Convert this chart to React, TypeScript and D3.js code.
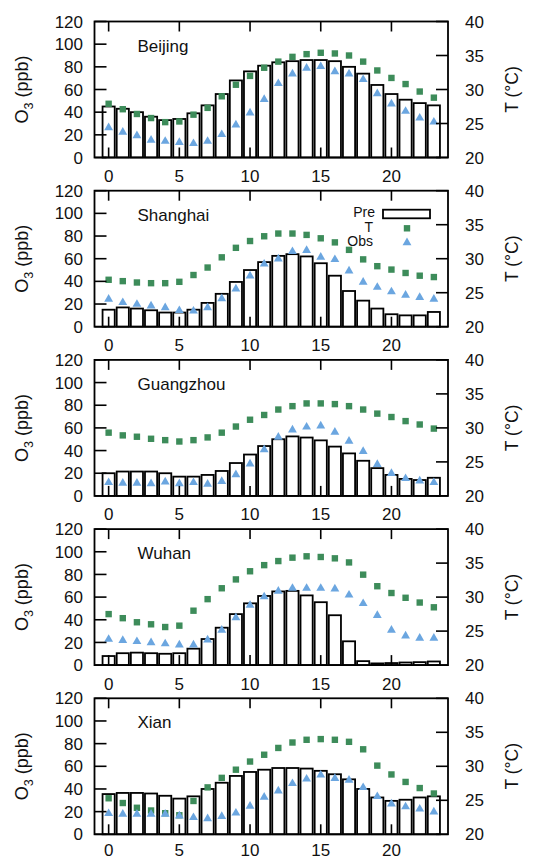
import React from "react";
import * as d3 from "d3";

const hours = d3.range(0, 24);
const cities = ["Beijing", "Shanghai", "Guangzhou", "Wuhan", "Xian"];

// predicted O3 (ppb), bars
const prePPB = [
  [45, 43, 40, 36, 33, 34, 39, 46, 56, 68, 76, 81, 84, 85, 86, 86, 85, 80, 74, 64, 56, 51, 48, 46],
  [15, 17, 16, 14.5, 12.5, 12.5, 15, 21, 29, 39.5, 50, 57, 62.5, 64, 62, 56, 45, 31.5, 23, 16, 11, 10, 10, 13],
  [20, 21.5, 21.5, 21.5, 20, 17, 17, 18.5, 22, 29, 36.5, 44, 50, 52.5, 51.5, 49, 43.5, 37.5, 31, 24.5, 18.5, 15, 14, 16],
  [8, 10.5, 11, 10.5, 10, 10.5, 14.5, 23, 33, 45, 54.5, 61, 65, 65.5, 61.5, 55.5, 44, 21, 3.5, 1.5, 1.8, 2.3, 2.6, 3.2],
  [35.5, 36.5, 36.5, 36, 34, 31.5, 33.5, 40, 45.5, 51.5, 55, 57, 58.5, 58.5, 58, 56, 53, 48.5, 40, 32.5, 29.5, 30.5, 32.5, 33.5],
];

// temperature (°C), green squares
const tempC = [
  [27.9, 27.1, 26.4, 25.8, 25.2, 25.3, 26.3, 27.3, 29.0, 30.7, 32.0, 33.2, 34.1, 34.8, 35.2, 35.4, 35.3, 35.0, 34.1, 32.8, 31.7, 30.8, 29.7, 28.8],
  [26.9, 26.7, 26.5, 26.4, 26.4, 26.6, 27.6, 28.7, 30.2, 31.6, 32.6, 33.3, 33.7, 33.7, 33.5, 33.0, 32.4, 31.3, 29.9, 28.9, 28.4, 27.9, 27.5, 27.3],
  [29.3, 28.9, 28.7, 28.4, 28.2, 28.0, 28.2, 28.6, 29.3, 30.2, 31.2, 31.9, 32.7, 33.2, 33.6, 33.6, 33.5, 33.2, 32.7, 32.1, 31.6, 31.0, 30.5, 29.9],
  [27.5, 26.9, 26.3, 26.0, 25.6, 25.8, 28.0, 29.7, 31.3, 32.6, 33.8, 34.7, 35.3, 35.8, 36.0, 35.9, 35.7, 35.1, 33.3, 31.6, 30.6, 29.9, 29.2, 28.5],
  [25.3, 24.6, 23.9, 23.5, 23.1, 22.8, 24.9, 26.9, 28.3, 29.5, 30.7, 31.7, 32.7, 33.5, 33.9, 34.0, 33.9, 33.6, 32.5, 30.1, 28.8, 27.7, 26.8, 26.0],
];

// observed O3 (ppb), blue triangles
const obsPPB = [
  [27, 23, 20, 16, 15, 14, 13, 15, 21, 29.5, 40, 52, 66, 74.5, 79.5, 81, 76.5, 74.5, 69.5, 57, 48, 41.5, 35.5, 32],
  [25, 22, 20.5, 19, 17.5, 15, 14.5, 17.5, 25.5, 34, 45.5, 56, 60.5, 67, 68, 62, 60, 50, 40, 35.5, 31.5, 28.5, 26.5, 25],
  [12.5, 12, 12, 11.5, 13, 11.5, 12.5, 11, 13.5, 19.5, 29, 41.5, 52.5, 59, 61.5, 62.5, 57, 49, 40, 28.5, 20.5, 16, 14, 12.5],
  [23.5, 22.5, 21.5, 20.5, 19.5, 18.5, 18.5, 23, 31.5, 42.5, 53.5, 61, 66, 68.5, 68.5, 68.5, 68, 62.5, 55, 44.5, 31.5, 26.5, 24.5, 24.5],
  [19, 18.5, 18.5, 18.5, 18.5, 17, 15.5, 14.5, 16.5, 19.5, 25.5, 33.5, 39, 45.5, 49.5, 53, 50, 48.5, 42, 34, 27.5, 25, 23, 20.5],
];

const o3Ticks = [0, 20, 40, 60, 80, 100, 120];
const tTicks = [20, 25, 30, 35, 40];
const hourTicks = [0, 5, 10, 15, 20];

const W = 544;
const H = 860;
const left = 94.5;
const right = 448;
const panelH = 136;
const panelTop = (i: number) => 21.5 + i * 169.2;

const FONT = "'Liberation Sans', Arial, Helvetica, sans-serif";
const GREEN = "#3d8c5a";
const BLUE = "#6ba6e0";

const x = d3.scaleLinear().domain([-1, 24]).range([left, right]);
const barW = (x(1) - x(0)) * 0.86;
const tri = d3.symbol().type(d3.symbolTriangle).size(34)();

function Panel({ idx }: { idx: number }) {
  const top = panelTop(idx);
  const bottom = top + panelH;
  const yO3 = d3.scaleLinear().domain([0, 120]).range([bottom, top]);
  const yT = d3.scaleLinear().domain([20, 40]).range([bottom, top]);
  const mid = (top + bottom) / 2;
  // keep the last row of hour labels inside the page
  const labelY = Math.min(bottom + 24.5, H - 4.5);
  return (
    <g>
      {/* bars */}
      {hours.map((h, i) => (
        <rect
          key={"b" + h}
          x={x(h) - barW / 2}
          y={yO3(prePPB[idx][i])}
          width={barW}
          height={bottom - yO3(prePPB[idx][i])}
          fill="#fff"
          stroke="#000"
          strokeWidth={1.8}
        />
      ))}
      {/* temperature squares */}
      {hours.map((h, i) => (
        <rect
          key={"t" + h}
          x={x(h) - 3.2}
          y={yT(tempC[idx][i]) - 3.2}
          width={6.4}
          height={6.4}
          fill={GREEN}
        />
      ))}
      {/* observed triangles */}
      {hours.map((h, i) => (
        <path
          key={"o" + h}
          d={tri}
          transform={`translate(${x(h)},${yO3(obsPPB[idx][i]) + 0.8})`}
          fill={BLUE}
        />
      ))}
      {/* ticks */}
      {hourTicks.map((t) => (
        <g key={"xt" + t} stroke="#000" strokeWidth={1.6}>
          <line x1={x(t)} x2={x(t)} y1={bottom} y2={bottom - 10} />
          <line x1={x(t)} x2={x(t)} y1={top} y2={top + 10} />
        </g>
      ))}
      {o3Ticks.map((t) => (
        <line key={"yl" + t} x1={left} x2={left + 12} y1={yO3(t)} y2={yO3(t)} stroke="#000" strokeWidth={1.6} />
      ))}
      {tTicks.map((t) => (
        <line key={"yr" + t} x1={right} x2={right - 12} y1={yT(t)} y2={yT(t)} stroke="#000" strokeWidth={1.6} />
      ))}
      <rect x={left} y={top} width={right - left} height={panelH} fill="none" stroke="#000" strokeWidth={1.8} />
      {/* tick labels */}
      {o3Ticks.map((t) => (
        <text key={"ll" + t} x={83} y={yO3(t)} dy="0.36em" textAnchor="end" fontSize={17}>
          {t}
        </text>
      ))}
      {tTicks.map((t) => (
        <text key={"rl" + t} x={465} y={yT(t)} dy="0.36em" textAnchor="start" fontSize={17}>
          {t}
        </text>
      ))}
      {hourTicks.map((t) => (
        <text key={"xl" + t} x={x(t)} y={labelY} textAnchor="middle" fontSize={17}>
          {t}
        </text>
      ))}
      <text x={137.5} y={top + 30} fontSize={17}>
        {cities[idx]}
      </text>
      {/* axis titles */}
      <text transform={`translate(28,${mid}) rotate(-90)`} textAnchor="middle" fontSize={18}>
        O<tspan fontSize={12.5} dy={5}>3</tspan>
        <tspan dy={-5}> (ppb)</tspan>
      </text>
      <text transform={`translate(518,${mid}) rotate(-90)`} textAnchor="middle" fontSize={17.5}>
        T (°C)
      </text>
    </g>
  );
}

function Legend() {
  const top = panelTop(1);
  return (
    <g fontSize={14}>
      <text x={375} y={top + 26.5} textAnchor="end">Pre</text>
      <rect x={383} y={top + 19} width={47} height={8.6} fill="#fff" stroke="#000" strokeWidth={1.8} />
      <text x={373} y={top + 41} textAnchor="end">T</text>
      <rect x={407 - 3.2} y={top + 37.6 - 3.2} width={6.4} height={6.4} fill={GREEN} />
      <text x={373} y={top + 55.5} textAnchor="end">Obs</text>
      <path d={tri} transform={`translate(407,${top + 52})`} fill={BLUE} />
    </g>
  );
}

export default function App() {
  return (
    <svg
      width={W}
      height={H}
      style={{ position: "absolute", left: 0, top: 0, background: "#fff" }}
      fontFamily={FONT}
      fill="#111"
    >
      <rect width={W} height={H} fill="#fff" />
      {cities.map((c, i) => (
        <Panel key={c} idx={i} />
      ))}
      <Legend />
    </svg>
  );
}
